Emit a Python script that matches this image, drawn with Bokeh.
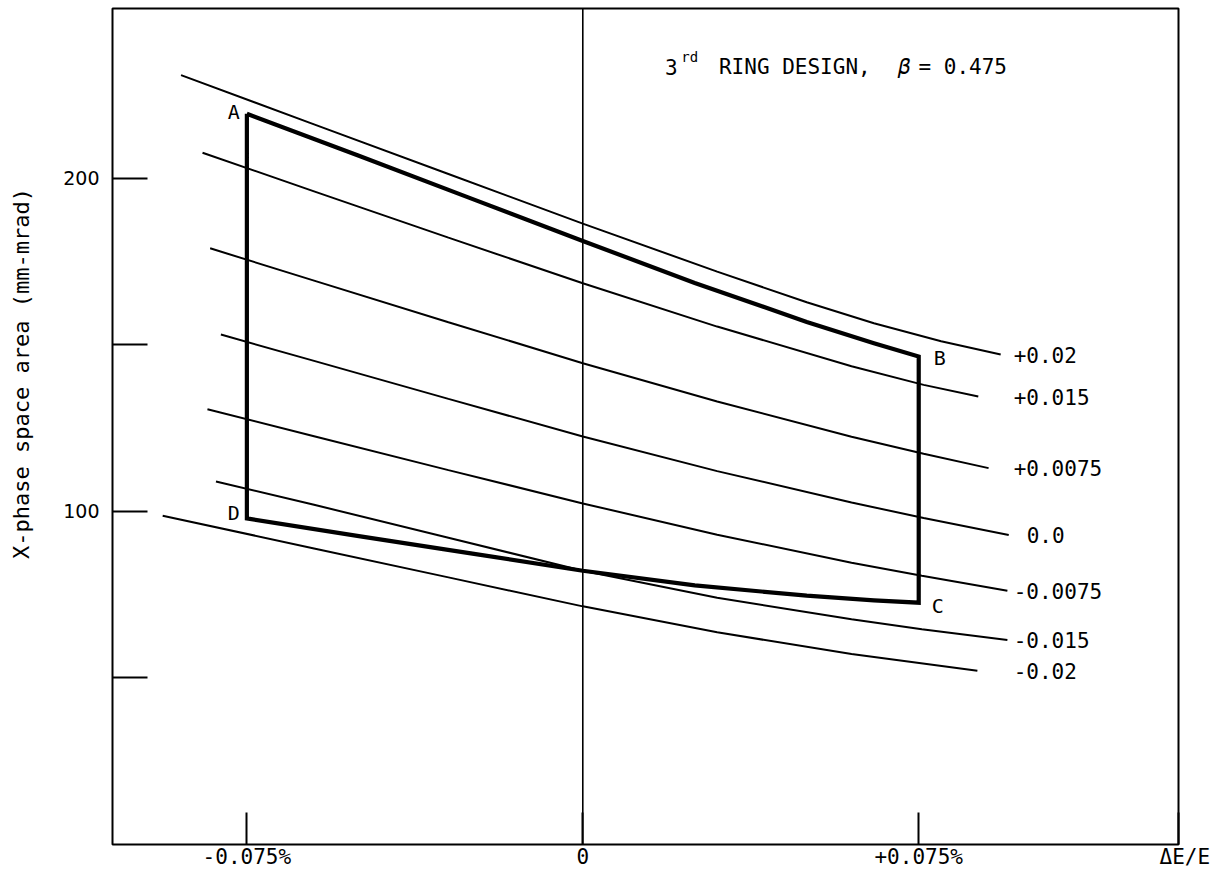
import math
from bokeh.plotting import figure
from bokeh.models import Span, Label, FixedTicker, ColumnDataSource, Range1d
from bokeh.embed import file_html
from bokeh.resources import INLINE
from bokeh.core.properties import value

# ---------------- data ----------------
# x: Delta E / E in percent, y: X-phase space area (mm-mrad)
curve_names = ["+0.02", "+0.015", "+0.0075", "0.0", "-0.0075", "-0.015", "-0.02"]

x_p020 = [-0.0897, -0.060, -0.030, 0.000, 0.030, 0.050, 0.065, 0.080, 0.0933]
y_p020 = [231.0, 216.2, 201.3, 186.4, 172.0, 162.8, 156.5, 151.1, 147.1]

x_p015 = [-0.0849, -0.060, -0.030, 0.000, 0.030, 0.060, 0.0761, 0.0883]
y_p015 = [207.7, 196.1, 182.2, 168.5, 155.5, 143.6, 138.0, 134.5]

x_p0075 = [-0.0832, -0.060, -0.030, 0.000, 0.030, 0.060, 0.0761, 0.0906]
y_p0075 = [179.0, 169.3, 156.8, 144.5, 133.0, 122.4, 117.3, 113.0]

x_000 = [-0.0808, -0.060, -0.030, 0.000, 0.030, 0.060, 0.0761, 0.0951]
y_000 = [153.1, 145.2, 133.8, 122.5, 112.1, 102.7, 98.0, 92.9]

x_m0075 = [-0.0838, -0.060, -0.030, 0.000, 0.030, 0.060, 0.0757, 0.0948]
y_m0075 = [130.7, 122.6, 112.4, 102.4, 93.0, 84.6, 80.7, 76.2]

x_m015 = [-0.0819, -0.060, -0.030, 0.000, 0.030, 0.060, 0.0757, 0.0948]
y_m015 = [109.0, 102.0, 92.1, 82.2, 74.1, 67.6, 64.6, 61.4]

x_m020 = [-0.0938, -0.060, -0.030, 0.000, 0.030, 0.060, 0.0881]
y_m020 = [98.7, 88.9, 80.2, 71.5, 63.7, 57.2, 52.2]

# heavy outline A-B (top) and D-C (bottom)
x_AB = [-0.075, -0.050, -0.025, 0.000, 0.025, 0.050, 0.065, 0.075]
y_AB = [219.4, 206.8, 194.0, 181.2, 168.6, 156.9, 150.5, 146.5]
x_DC = [-0.075, -0.050, -0.025, 0.000, 0.025, 0.050, 0.065, 0.075]
y_DC = [97.9, 92.6, 87.4, 82.2, 77.8, 74.7, 73.3, 72.6]
corner_names = ["A", "B", "C", "D"]

x_min, x_max = -0.105, 0.133
y_min, y_max = 0, 251
x_ticks = [-0.075, 0.0, 0.075, x_max]
x_tick_labels = ["-0.075%", "0", "+0.075%", "\u00a0\u0394E/E"]
y_ticks = [50, 100, 150, 200]
y_tick_labels = ["", "100", "", "200"]
y_title = "\u00a0" * 8 + "X-phase space area (mm-mrad)"

curves_x = [x_p020, x_p015, x_p0075, x_000, x_m0075, x_m015, x_m020]
curves_y = [y_p020, y_p015, y_p0075, y_000, y_m0075, y_m015, y_m020]

# ---------------- figure ----------------
MONO = "DejaVu Sans Mono"
p = figure(width=1212, height=871,
           x_range=Range1d(x_min, x_max), y_range=Range1d(y_min, y_max),
           output_backend="svg", toolbar_location=None,
           min_border_left=112, min_border_right=34,
           min_border_top=8, min_border_bottom=26)
p.title.visible = False
p.grid.visible = False
p.outline_line_color = "black"
p.outline_line_width = 2
p.background_fill_color = "white"
p.border_fill_color = "white"

# y axis
p.yaxis.ticker = FixedTicker(ticks=y_ticks)
p.yaxis.major_label_overrides = {t: l for t, l in zip(y_ticks, y_tick_labels)}
p.yaxis.major_tick_in = 35
p.yaxis.major_tick_out = 0
p.yaxis.major_tick_line_width = 2
p.yaxis.major_tick_line_color = "black"
p.yaxis.minor_tick_line_color = None
p.yaxis.axis_line_color = None
p.yaxis.major_label_text_font = "DejaVu Sans"
p.yaxis.major_label_text_font_size = "19px"
p.yaxis.major_label_text_color = "black"
p.yaxis.major_label_standoff = 13
p.yaxis.axis_label = y_title
p.yaxis.axis_label_text_font = MONO
p.yaxis.axis_label_text_font_size = "22px"
p.yaxis.axis_label_text_font_style = "normal"
p.yaxis.axis_label_text_color = "black"
p.yaxis.axis_label_standoff = 26

# x axis
p.xaxis.ticker = FixedTicker(ticks=x_ticks)
p.xaxis.major_label_overrides = {t: l for t, l in zip(x_ticks, x_tick_labels)}
p.xaxis.major_tick_in = 32
p.xaxis.major_tick_out = 0
p.xaxis.major_tick_line_width = 2
p.xaxis.major_tick_line_color = "black"
p.xaxis.minor_tick_line_color = None
p.xaxis.axis_line_color = None
p.xaxis.major_label_text_font = MONO
p.xaxis.major_label_text_font_size = "21px"
p.xaxis.major_label_text_color = "black"
p.xaxis.major_label_standoff = 0

# zero line
p.add_layout(Span(location=0, dimension="height", line_color="black", line_width=1.6))

# family of curves
for xs, ys in zip(curves_x, curves_y):
    p.line(xs, ys, line_color="black", line_width=2)

# heavy outline A-B-C-D
ox = x_AB + x_DC[::-1] + [x_AB[0]]
oy = y_AB + y_DC[::-1] + [y_AB[0]]
p.line(ox, oy, line_color="black", line_width=4.2, line_join="miter")

# curve labels at the right end of each curve
lab_src = ColumnDataSource(dict(
    x=[0.0962] * len(curve_names),
    y=[ys[-1] for ys in curves_y],
    text=curve_names,
    xo=[13 if n == "0.0" else 0 for n in curve_names],
))
p.text(x="x", y="y", text="text", x_offset="xo", source=lab_src,
       text_font=value(MONO), text_font_size="21px", text_align="left",
       text_baseline="middle", text_color="black")

# corner labels
cor_src = ColumnDataSource(dict(
    x=[x_AB[0], x_AB[-1], x_DC[-1], x_DC[0]],
    y=[y_AB[0], y_AB[-1], y_DC[-1], y_DC[0]],
    text=corner_names,
    xo=[-13, 21, 19, -13],
    yo=[-2, 1, 3, -5],
))
p.text(x="x", y="y", text="text", x_offset="xo", y_offset="yo", source=cor_src,
       text_font=value(MONO), text_font_size="20px", text_align="center",
       text_baseline="middle", text_color="black")

# title inside the frame
def lab(x, y, t, size, **kw):
    p.add_layout(Label(x=x, y=y, text=t, text_font=MONO, text_font_size=size,
                       text_align="left", text_baseline="alphabetic",
                       text_color="black", **kw))

lab(0.01835, 233.3, "3", "21px")
lab(0.02200, 236.3, "rd", "14px")
lab(0.03040, 233.3, "RING DESIGN,", "21px")
lab(0.07040, 233.3, "\u03b2", "21px", text_font_style="italic")
lab(0.07494, 233.3, "= 0.475", "21px")

open("out.html", "w").write(file_html(p, INLINE))
